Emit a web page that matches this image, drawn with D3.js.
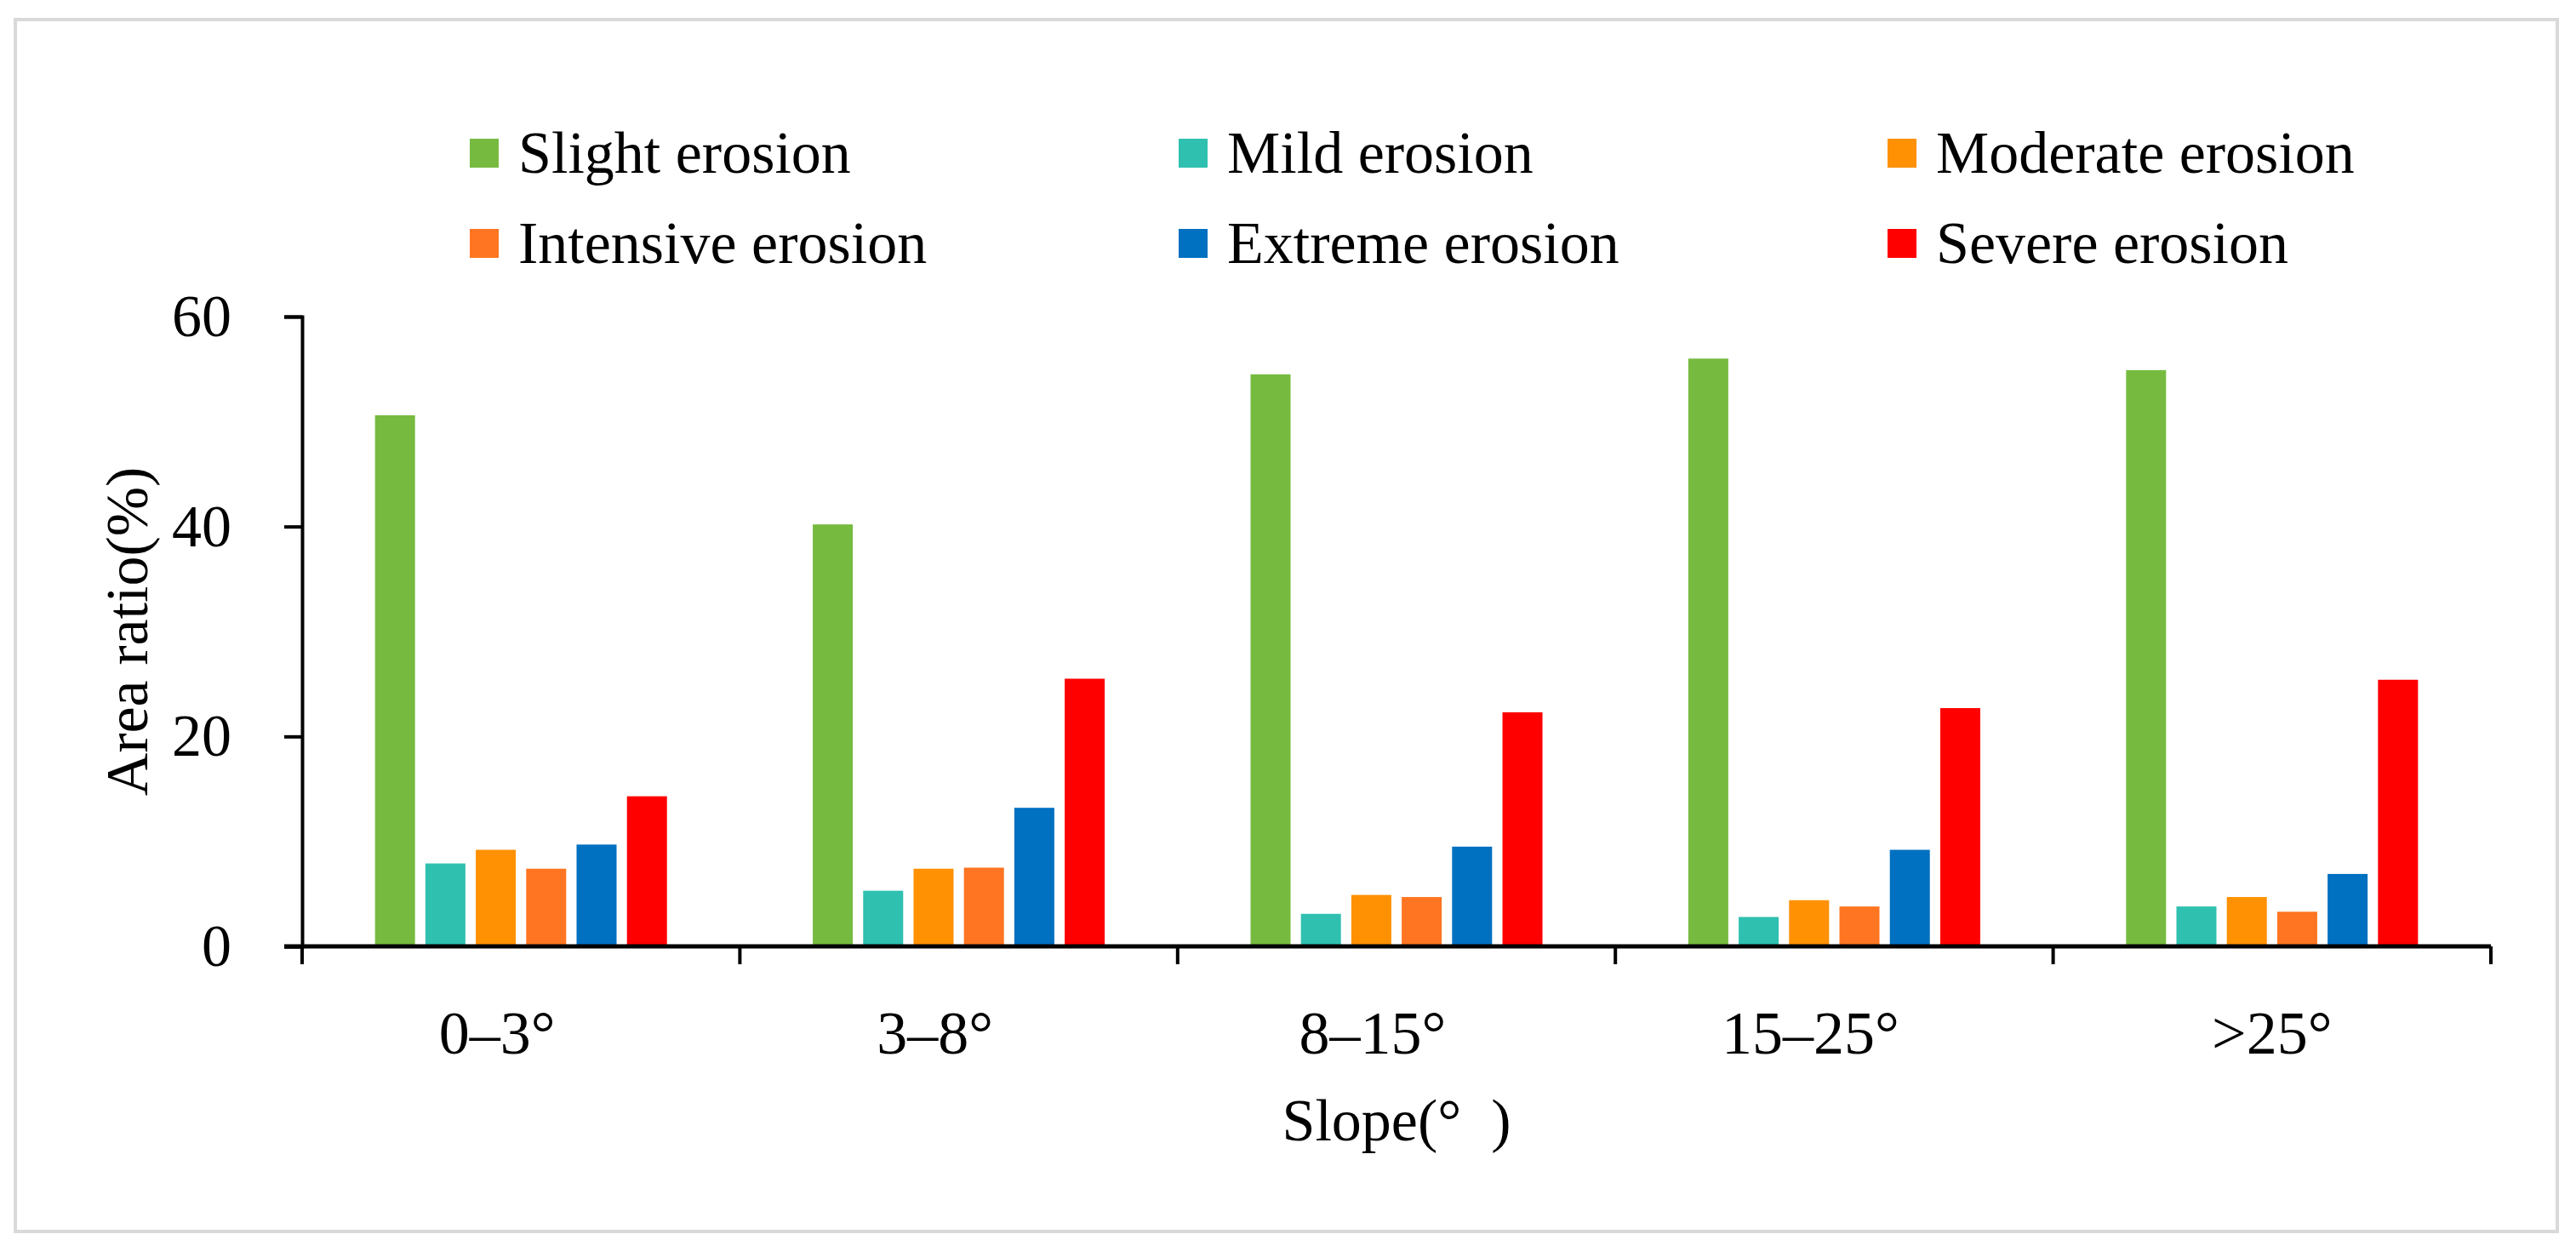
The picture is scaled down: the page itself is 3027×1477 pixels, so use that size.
<!DOCTYPE html>
<html>
<head>
<meta charset="utf-8">
<script src="https://cdn.jsdelivr.net/npm/d3@7"></script>
<style>
  body { margin: 0; background: #fff; }
  text { font-family: "Liberation Serif", "Times New Roman", serif; fill: #000; }
</style>
</head>
<body>
<div id="chart"></div>
<script>
// data
var slopes = ["0–3°", "3–8°", "8–15°", "15–25°", ">25°"];
var series = ["Slight erosion", "Mild erosion", "Moderate erosion", "Intensive erosion", "Extreme erosion", "Severe erosion"];
var colors = ["#76bb40", "#2fc0b0", "#ff9102", "#ff7521", "#0070c0", "#ff0000"];
var slight    = [50.6, 40.2, 54.5, 56.0, 54.9];
var mild      = [7.9, 5.3, 3.1, 2.8, 3.8];
var moderate  = [9.2, 7.4, 4.9, 4.4, 4.7];
var intensive = [7.4, 7.5, 4.7, 3.8, 3.3];
var extreme   = [9.7, 13.2, 9.5, 9.2, 6.9];
var severe    = [14.3, 25.5, 22.3, 22.7, 25.4];
var yTicks = [0, 20, 40, 60];

var values = [slight, mild, moderate, intensive, extreme, severe];

var width = 3027, height = 1477;
var margin = {top: 372, left: 355, right: 100, bottom: 365};

var svg = d3.select("#chart").append("svg")
    .attr("width", width)
    .attr("height", height);

// outer frame
svg.append("rect")
    .attr("x", 18).attr("y", 23)
    .attr("width", 2987).attr("height", 1424)
    .attr("fill", "none")
    .attr("stroke", "#d9d9d9")
    .attr("stroke-width", 4);

var x0 = d3.scaleBand()
    .domain(slopes)
    .range([margin.left, width - margin.right])
    .padding(0);

var x1 = d3.scaleBand()
    .domain(series)
    .range([0, x0.bandwidth()])
    .paddingInner(0.206)
    .paddingOuter(1.447);

var y = d3.scaleLinear()
    .domain([0, 60])
    .range([height - margin.bottom, margin.top]);

var color = d3.scaleOrdinal().domain(series).range(colors);

// bars
var groups = svg.selectAll(".grp")
    .data(slopes)
    .enter()
    .append("g")
    .attr("class", "grp")
    .attr("transform", function(d) { return "translate(" + x0(d) + ",0)"; });

groups.selectAll("rect")
    .data(function(d, i) {
        return series.map(function(s, j) { return {key: s, value: values[j][i]}; });
    })
    .enter()
    .append("rect")
    .attr("x", function(d) { return x1(d.key); })
    .attr("y", function(d) { return y(d.value); })
    .attr("width", x1.bandwidth())
    .attr("height", function(d) { return y(0) - y(d.value); })
    .attr("fill", function(d) { return color(d.key); });

// y axis
var yAxis = svg.append("g")
    .attr("transform", "translate(" + margin.left + ",0)")
    .call(d3.axisLeft(y).tickValues(yTicks).tickSize(21).tickPadding(62));
yAxis.selectAll("path, line").attr("stroke", "#000").attr("stroke-width", 4);
yAxis.selectAll("text")
    .style("font-family", "Liberation Serif")
    .style("font-size", "70px")
    .attr("fill", "#000");

// x axis: line, boundary ticks, labels
var xAxis = svg.append("g");
xAxis.append("line")
    .attr("x1", margin.left - 21).attr("x2", width - margin.right)
    .attr("y1", y(0)).attr("y2", y(0))
    .attr("stroke", "#000").attr("stroke-width", 5);

var bounds = slopes.map(function(d) { return x0(d); }).concat([x0.range()[1]]);
xAxis.selectAll(".bt")
    .data(bounds)
    .enter()
    .append("line")
    .attr("class", "bt")
    .attr("x1", function(d) { return d; }).attr("x2", function(d) { return d; })
    .attr("y1", y(0)).attr("y2", y(0) + 21)
    .attr("stroke", "#000").attr("stroke-width", 4);

xAxis.selectAll(".xl")
    .data(slopes)
    .enter()
    .append("text")
    .attr("class", "xl")
    .attr("x", function(d) { return x0(d) + x0.bandwidth() / 2; })
    .attr("dx", function(d, i) { return i < 4 ? -28 : 0; })
    .attr("y", 1238)
    .attr("text-anchor", "middle")
    .style("font-size", "72px")
    .text(function(d) { return d; });

// axis titles
svg.append("text")
    .attr("transform", "rotate(-90)")
    .attr("x", -(y(0) + y(60)) / 2)
    .attr("y", 173)
    .attr("text-anchor", "middle")
    .style("font-size", "70px")
    .text("Area ratio(%)");

svg.append("text")
    .attr("x", (x0.range()[0] + x0.range()[1]) / 2)
    .attr("y", 1340)
    .attr("text-anchor", "middle")
    .style("font-size", "70px")
    .text("Slope(°\u2002)");

// legend, 3 columns x 2 rows
var legend = svg.selectAll(".leg")
    .data(series)
    .enter()
    .append("g")
    .attr("class", "leg")
    .attr("transform", function(d, i) {
        return "translate(" + (552 + (i % 3) * 833) + "," + (163 + Math.floor(i / 3) * 106) + ")";
    });

legend.append("rect")
    .attr("width", 34).attr("height", 34)
    .attr("fill", function(d) { return color(d); });

legend.append("text")
    .attr("x", 57)
    .attr("y", 40)
    .style("font-size", "70px")
    .text(function(d) { return d; });
</script>
</body>
</html>
